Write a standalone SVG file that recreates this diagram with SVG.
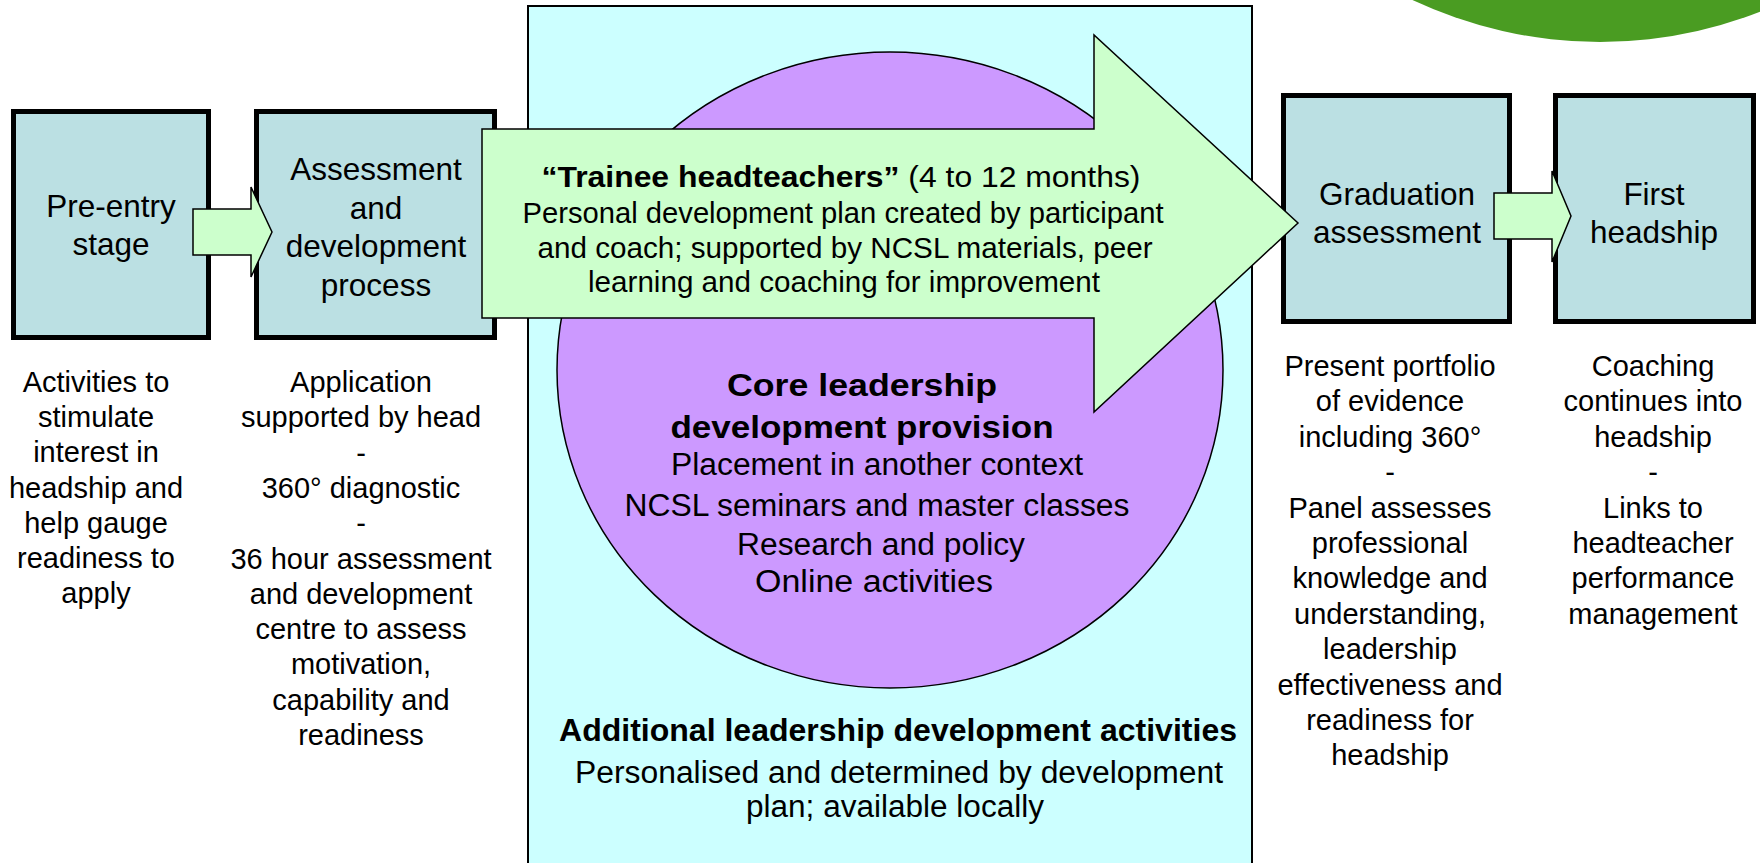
<svg xmlns="http://www.w3.org/2000/svg" width="1760" height="863" viewBox="0 0 1760 863">
<style>
.box{fill:#bbe0e3;stroke:#000;stroke-width:5}
.arr{fill:#ccffcc;stroke:#000;stroke-width:1.5;stroke-linejoin:miter}
.t{font-family:"Liberation Sans",Arial,sans-serif;fill:#000;text-anchor:middle}
.bt{font-size:31.5px}
.lt{font-size:29px}
.b{font-weight:bold}
</style>
<rect width="1760" height="863" fill="#fff"/>
<ellipse cx="1600" cy="-533" rx="500" ry="575" fill="#4a9c22"/>
<g id="core-area">
<rect x="528" y="6" width="724" height="880" fill="#ccffff" stroke="#000" stroke-width="2"/>
<ellipse cx="890" cy="370" rx="333" ry="318" fill="#cc99ff" stroke="#000" stroke-width="1.5"/>
<g class="t">
<text x="862" y="396" class="b" font-size="32" textLength="270" lengthAdjust="spacingAndGlyphs">Core leadership</text>
<text x="862" y="438" class="b" font-size="32" textLength="383" lengthAdjust="spacingAndGlyphs">development provision</text>
<text x="877" y="475" font-size="31" textLength="412" lengthAdjust="spacingAndGlyphs">Placement in another context</text>
<text x="877" y="516" font-size="31" textLength="505" lengthAdjust="spacingAndGlyphs">NCSL seminars and master classes</text>
<text x="881" y="555" font-size="31" textLength="288" lengthAdjust="spacingAndGlyphs">Research and policy</text>
<text x="874" y="592" font-size="31" textLength="238" lengthAdjust="spacingAndGlyphs">Online activities</text>
<text x="898" y="741" class="b" font-size="32" textLength="678" lengthAdjust="spacingAndGlyphs">Additional leadership development activities</text>
<text x="899" y="783" font-size="31" textLength="648" lengthAdjust="spacingAndGlyphs">Personalised and determined by development</text>
<text x="895" y="817" font-size="31" textLength="298" lengthAdjust="spacingAndGlyphs">plan; available locally</text>
</g>
</g>
<g id="pre-entry">
<rect class="box" x="13.5" y="111.5" width="195" height="226"/>
<text class="t bt"><tspan x="111" y="217">Pre-entry</tspan><tspan x="111" y="255">stage</tspan></text>
<text class="t lt"><tspan x="96" y="392">Activities to</tspan><tspan x="96" y="427.2">stimulate</tspan><tspan x="96" y="462.4">interest in</tspan><tspan x="96" y="497.6">headship and</tspan><tspan x="96" y="532.8">help gauge</tspan><tspan x="96" y="568">readiness to</tspan><tspan x="96" y="603.2">apply</tspan></text>
</g>
<g id="assessment">
<rect class="box" x="256.5" y="111.5" width="238" height="226"/>
<text class="t bt"><tspan x="376" y="180">Assessment</tspan><tspan x="376" y="218.5">and</tspan><tspan x="376" y="257">development</tspan><tspan x="376" y="295.5">process</tspan></text>
<text class="t lt"><tspan x="361" y="392">Application</tspan><tspan x="361" y="427.3">supported by head</tspan><tspan x="361" y="462.6">-</tspan><tspan x="361" y="497.9">360° diagnostic</tspan><tspan x="361" y="533.2">-</tspan><tspan x="361" y="568.5">36 hour assessment</tspan><tspan x="361" y="603.8">and development</tspan><tspan x="361" y="639.1">centre to assess</tspan><tspan x="361" y="674.4">motivation,</tspan><tspan x="361" y="709.7">capability and</tspan><tspan x="361" y="745">readiness</tspan></text>
</g>
<g id="graduation">
<rect class="box" x="1283.5" y="95.5" width="226" height="226"/>
<text class="t bt"><tspan x="1397" y="205">Graduation</tspan><tspan x="1397" y="243">assessment</tspan></text>
<text class="t lt"><tspan x="1390" y="376">Present portfolio</tspan><tspan x="1390" y="411.4">of evidence</tspan><tspan x="1390" y="446.8">including 360°</tspan><tspan x="1390" y="482.2">-</tspan><tspan x="1390" y="517.6">Panel assesses</tspan><tspan x="1390" y="553">professional</tspan><tspan x="1390" y="588.4">knowledge and</tspan><tspan x="1390" y="623.8">understanding,</tspan><tspan x="1390" y="659.2">leadership</tspan><tspan x="1390" y="694.6">effectiveness and</tspan><tspan x="1390" y="730">readiness for</tspan><tspan x="1390" y="765.4">headship</tspan></text>
</g>
<g id="first-headship">
<rect class="box" x="1555.5" y="95.5" width="198" height="226"/>
<text class="t bt"><tspan x="1654" y="205">First</tspan><tspan x="1654" y="243">headship</tspan></text>
<text class="t lt"><tspan x="1653" y="376">Coaching</tspan><tspan x="1653" y="411.4">continues into</tspan><tspan x="1653" y="446.8">headship</tspan><tspan x="1653" y="482.2">-</tspan><tspan x="1653" y="517.6">Links to</tspan><tspan x="1653" y="553">headteacher</tspan><tspan x="1653" y="588.4">performance</tspan><tspan x="1653" y="623.8">management</tspan></text>
</g>
<g id="connectors">
<polygon class="arr" points="193,209 251,209 251,187 272,232 251,277 251,255 193,255"/>
<polygon class="arr" points="1494,193 1552,193 1552,171 1571,216 1552,262 1552,239 1494,239"/>
<polygon class="arr" points="482,129 1094,129 1094,35 1298,223 1094,412 1094,318 482,318"/>
</g>
<g id="trainee" class="t">
<text x="841" y="187" font-size="30" textLength="599" lengthAdjust="spacingAndGlyphs"><tspan class="b">“Trainee headteachers”</tspan> (4 to 12 months)</text>
<text x="843" y="223" font-size="30" textLength="641" lengthAdjust="spacingAndGlyphs">Personal development plan created by participant</text>
<text x="845" y="258" font-size="30" textLength="615" lengthAdjust="spacingAndGlyphs">and coach; supported by NCSL materials, peer</text>
<text x="844" y="292" font-size="30" textLength="512" lengthAdjust="spacingAndGlyphs">learning and coaching for improvement</text>
</g>
</svg>
